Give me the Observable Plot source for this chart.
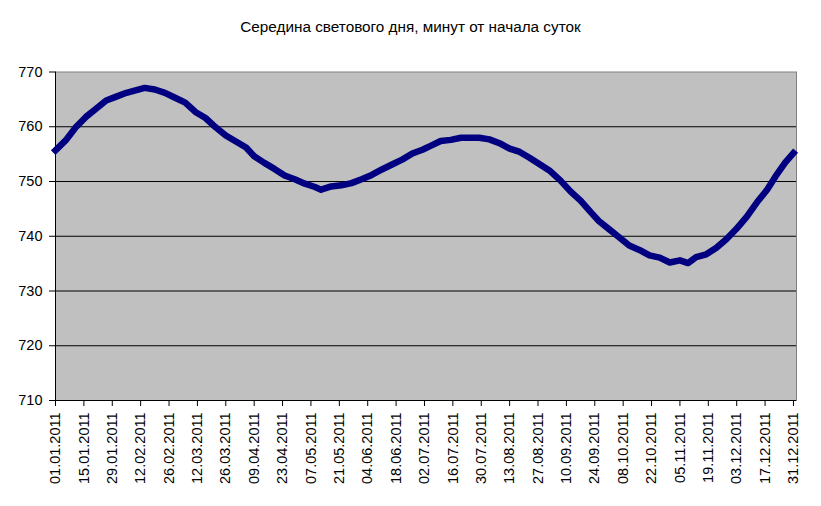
<!DOCTYPE html>
<html>
<head>
<meta charset="utf-8">
<script src="https://cdn.jsdelivr.net/npm/d3@7"></script>
<script src="https://cdn.jsdelivr.net/npm/@observablehq/plot@0.6"></script>
<style>
  html, body { margin: 0; padding: 0; background: #fff; }
  #title {
    width: 821px; height: 50px; box-sizing: border-box; padding-top: 17.5px;
    text-align: center; font: 15.3px "Liberation Sans", Arial, sans-serif; color: #000;
  }
</style>
</head>
<body>
<div id="title">Середина светового дня, минут от начала суток</div>
<div id="chart"></div>
<script>
// day of year (0 = 01.01.2011) and value (minutes from start of day)
const days = [0,5,10,15,20,25,30,35,39,44,49,54,59,64,69,74,79,84,89,94,98,103,108,113,118,123,128,131,136,141,146,151,156,161,166,171,176,181,185,190,195,200,205,209,214,219,224,229,234,239,244,249,254,259,264,268,273,278,283,288,293,298,303,308,312,316,321,326,331,336,341,346,351,356,360,364];
const values = [755.7,757.5,759.9,761.8,763.3,764.8,765.5,766.2,766.6,767.1,766.8,766.2,765.3,764.4,762.7,761.6,759.9,758.4,757.3,756.2,754.6,753.4,752.3,751.1,750.4,749.6,749.0,748.5,749.1,749.3,749.7,750.4,751.2,752.2,753.1,754.0,755.1,755.8,756.5,757.4,757.6,758.0,758.0,758.0,757.7,757.0,756.0,755.4,754.3,753.1,751.9,750.2,748.2,746.5,744.4,742.8,741.3,739.8,738.3,737.5,736.5,736.1,735.2,735.6,735.1,736.2,736.7,737.9,739.5,741.4,743.6,746.2,748.5,751.4,753.5,755.2];

const tickLabels = ["01.01.2011","15.01.2011","29.01.2011","12.02.2011","26.02.2011","12.03.2011","26.03.2011","09.04.2011","23.04.2011","07.05.2011","21.05.2011","04.06.2011","18.06.2011","02.07.2011","16.07.2011","30.07.2011","13.08.2011","27.08.2011","10.09.2011","24.09.2011","08.10.2011","22.10.2011","05.11.2011","19.11.2011","03.12.2011","17.12.2011","31.12.2011"];
const tickDays = tickLabels.map((_, i) => i * 14);

const yTicks = [710,720,730,740,750,760,770];
const gridValues = [720,730,740,750,760];

const data = days.map((d, i) => ({day: d, v: values[i]}));

const font = '"Liberation Sans", Arial, sans-serif';

const chart = Plot.plot({
  width: 821,
  height: 456,
  marginTop: 21.5,
  marginBottom: 106,
  marginLeft: 55,
  marginRight: 25,
  style: {fontFamily: font, fontSize: "14.5px", color: "#000", background: "#fff", overflow: "visible"},
  x: {domain: [0, 365.5], axis: null},
  y: {domain: [710, 770], axis: null},
  marks: [
    Plot.frame({fill: "#c0c0c0", stroke: "#808080", strokeWidth: 1}),
    Plot.ruleY(gridValues, {stroke: "#000", strokeWidth: 1}),
    Plot.line(data, {x: "day", y: "v", stroke: "#000080", strokeWidth: 6.5, strokeLinejoin: "round", strokeLinecap: "square"}),
    Plot.ruleX([0], {stroke: "#000", strokeWidth: 1}),
    Plot.ruleY([710], {stroke: "#000", strokeWidth: 1}),
    Plot.axisY({ticks: yTicks, tickSize: 6, tickPadding: 7, stroke: "#000", fill: "#000", fontSize: 14.5, label: null, tickFormat: d => String(d)}),
    Plot.axisX({ticks: tickDays, tickSize: 6, tickPadding: 6, tickRotate: -90, stroke: "#000", fill: "#000", fontSize: 14.5, label: null,
      tickFormat: d => tickLabels[Math.round(d / 14)]})
  ]
});
document.getElementById("chart").appendChild(chart);
</script>
</body>
</html>
